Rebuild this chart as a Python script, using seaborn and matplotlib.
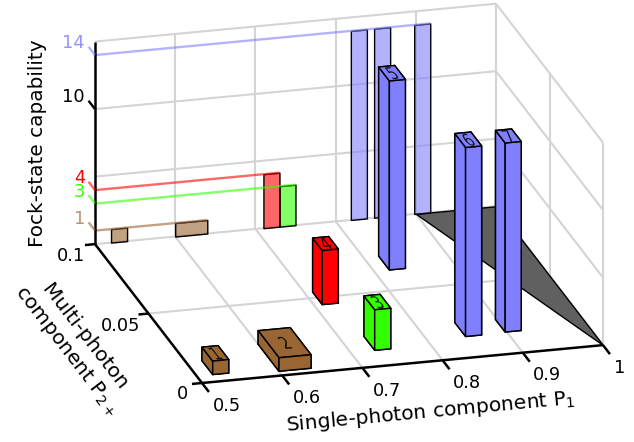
import numpy as np
import pandas as pd
import seaborn as sns
import matplotlib
matplotlib.use("Agg")
import matplotlib.pyplot as plt
from matplotlib.textpath import TextPath
from matplotlib.patches import PathPatch
from matplotlib.font_manager import FontProperties
from matplotlib.transforms import Affine2D
from mpl_toolkits.mplot3d import art3d, proj3d
from mpl_toolkits.mplot3d.art3d import Poly3DCollection

# ---- data ----
bar_ids = [1, 2, 3, 4, 5, 6, 7]
p1_low = [0.52, 0.60, 0.73, 0.71, 0.819, 0.848, 0.898]
p1_high = [0.54, 0.64, 0.75, 0.73, 0.839, 0.868, 0.918]
p2_low = [0.005, 0.003, 0.011, 0.045, 0.064, 0.0145, 0.015]
p2_high = [0.015, 0.0225, 0.021, 0.054, 0.074, 0.0245, 0.024]
fock = [1, 1, 3, 4, 14, 14, 14]
x_ticks = [0.5, 0.6, 0.7, 0.8, 0.9, 1.0]
x_labels = ["0.5", "0.6", "0.7", "0.8", "0.9", "1"]
y_ticks = [0.0, 0.05, 0.1]
y_labels = ["0", "0.05", "0.1"]
z_ticks = [1, 3, 4, 10, 14]
z_grid = [5, 10, 15]

df = pd.DataFrame(dict(id=bar_ids, x0=p1_low, x1=p1_high, y0=p2_low, y1=p2_high, z=fock))

sns.set_theme(style="white", rc={"font.family": "DejaVu Sans", "mathtext.default": "regular",
                                 "text.color": "black"})
BROWN, RED, GREEN, BLUE = sns.color_palette(["#996633", "#FF0000", "#33FF00", "#8080FF"])
level_color = {1: BROWN, 3: GREEN, 4: RED, 14: BLUE, 10: (0, 0, 0)}
bar_color = {1: BROWN, 3: GREEN, 4: RED, 14: BLUE}

W, H = 634, 442
fig = plt.figure(figsize=(W / 100, H / 100), dpi=100, facecolor="white")
ax = fig.add_axes([0.1, 0.1, 0.5, 0.5 * W / H], projection="3d")
ax.set_proj_type("ortho")
ax.view_init(elev=20.5, azim=-105.1)
ax.set_box_aspect((415.3, 410.7, 216.2))
ax.set_axis_off()
ax.computed_zorder = False
ax.patch.set_alpha(0)
XL, YL, ZL = (0.5, 1.0), (0.0, 0.1), (0.0, 15.0)


def set_limits():
    ax.set_xlim(*XL, view_margin=0)
    ax.set_ylim(*YL, view_margin=0)
    ax.set_zlim(*ZL, view_margin=0)


set_limits()
ax.set_autoscale_on(False)

# ---- grid ----
gk = dict(color="#d4d4d4", lw=1.5, zorder=1, solid_capstyle="butt")
for x in x_ticks[1:]:
    ax.plot([x, x], [0, 0.1], [0, 0], **gk)
    ax.plot([x, x], [0.1, 0.1], [0, 15], **gk)
for y in [0.05]:
    ax.plot([0.5, 1], [y, y], [0, 0], **gk)
    ax.plot([1, 1], [y, y], [0, 15], **gk)
ax.plot([1, 1], [0, 0], [0, 15], **gk)
ax.plot([0.5, 1], [0.1, 0.1], [0, 0], **gk)
ax.plot([1, 1], [0, 0.1], [0, 0], **gk)
for z in z_grid:
    ax.plot([0.5, 1], [0.1, 0.1], [z, z], **gk)
    ax.plot([1, 1], [0, 0.1], [z, z], **gk)

# ---- forbidden region ----
tri = Poly3DCollection([[(0.9, 0.1, 0), (1, 0.1, 0), (1, 0, 0)]], facecolors="#606060",
                       edgecolors="black", linewidths=1.0, zorder=2)
ax.add_collection3d(tri)

# ---- projections on the back wall ----
for _, r in df.iterrows():
    c = bar_color[int(r.z)]
    poly = [[(r.x0, 0.1, 0), (r.x1, 0.1, 0), (r.x1, 0.1, r.z), (r.x0, 0.1, r.z)]]
    pc = Poly3DCollection(poly, facecolors=[(*c, 0.6)], edgecolors="black", linewidths=1.0, zorder=3)
    ax.add_collection3d(pc)

# ---- level lines ----
for lv, x_end in zip([1, 3, 4, 14], [0.64, 0.75, 0.73, 0.918]):
    c = bar_color[lv]
    ax.plot([0.5, x_end], [0.1, 0.1], [lv, lv], color=c, alpha=0.6, lw=1.7, zorder=4,
            solid_capstyle="butt")

# ---- bars ----
order = sorted(range(len(bar_ids)), key=lambda i: -p2_low[i])
for k, i in enumerate(order):
    r = df.iloc[i]
    zo = 10 + k
    col = ax.bar3d(r.x0, r.y0, 0, r.x1 - r.x0, r.y1 - r.y0, r.z, color=bar_color[int(r.z)],
                   edgecolor="black", linewidth=1.05, shade=False)
    col.set_zorder(zo)
    tp = TextPath((0, 0), str(int(r.id)), size=1, prop=FontProperties(family="DejaVu Sans"))
    e = tp.get_extents()
    tr = (Affine2D().translate(-(e.x0 + e.x1) / 2, -(e.y0 + e.y1) / 2).scale(0.0175, 0.0115)
          .translate((r.x0 + r.x1) / 2, (r.y0 + r.y1) / 2))
    patch = PathPatch(tr.transform_path(tp), facecolor=(0, 0, 0, 0.85), edgecolor="none", lw=0,
                      zorder=zo + 0.5)
    ax.add_patch(patch)
    art3d.pathpatch_2d_to_3d(patch, z=r.z, zdir="z")

# ---- axes lines and ticks ----
ak = dict(color="black", lw=1.8, zorder=30, solid_capstyle="butt")
ax.plot([0.5, 1], [0, 0], [0, 0], **ak)
ax.plot([0.5, 0.5], [0, 0.1], [0, 0], **ak)
ax.plot([0.5, 0.5], [0.1, 0.1], [0, 15], **ak)
for x in x_ticks:
    ax.plot([x, x], [0, -0.0065], [0, 0], **ak)
for y in y_ticks:
    ax.plot([0.5, 0.4875], [y, y], [0, 0], **ak)
for z in z_ticks:
    lk = dict(ak, color=level_color[z], lw=1.7)
    if z != 10:
        lk["alpha"] = 0.6
    ax.plot([0.5, 0.5], [0.1, 0.106], [z, z], **lk)

set_limits()


# ---- place the axes so that the x axis lands on its spot in the figure ----
def px(pt):
    ax.apply_aspect()
    u, v, _ = proj3d.proj_transform(*pt, ax.get_proj())
    return ax.transData.transform((u, v))


a0, a1 = px((0.5, 0, 0)), px((1, 0, 0))
span = np.hypot(*(a1 - a0))
target0 = np.array([202.0, H - 383.0])
target1 = np.array([603.0, H - 345.0])
scale = np.hypot(*(target1 - target0)) / span
side = 0.5 * W * scale
ax.set_position([0.1, 0.1, side / W, side / H])
a0 = px((0.5, 0, 0))
shift = target0 - a0
ax.set_position([0.1 + shift[0] / W, 0.1 + shift[1] / H, side / W, side / H])


def label3d(x, y, z, s, **kw):
    p = px((x, y, z))
    fig.text(p[0] / W, p[1] / H, s, va="center", **kw)


TICK = 12.8
for x, s in zip(x_ticks, x_labels):
    label3d(x - 0.0081, -0.01589, 0, s, fontsize=TICK, ha="left")
for y, s, (ox, oy) in zip(y_ticks, y_labels, [(-0.0327, -0.0061), (-0.0431, -0.0066), (-0.039, -0.0065)]):
    label3d(0.5 + ox, y + oy, 0, s, fontsize=TICK, ha="center")
for z in z_ticks:
    c = level_color[z]
    tc = (*BROWN, 0.7) if z == 1 else ((*BLUE, 0.85) if z == 14 else c)
    label3d(0.4875, 0.1, z + 0.96, str(z), fontsize=TICK, ha="right", color=tc)


def T(x, y):
    return x / W, 1 - y / H


fig.text(*T(430, 412), r"Single-photon component P$_1$", fontsize=14.6, rotation=5.4, ha="center",
         va="center", rotation_mode="anchor")
fig.text(*T(38, 143), "Fock-state capability", fontsize=14.4, rotation=90, ha="center", va="center",
         rotation_mode="anchor")
fig.text(*T(75, 344), "Multi-photon\n" + r"component P$_{2+}$", fontsize=14.6, rotation=-52.4, ha="center",
         va="center", rotation_mode="anchor", linespacing=1.1, multialignment="center")

fig.savefig("out.png", dpi=100)
